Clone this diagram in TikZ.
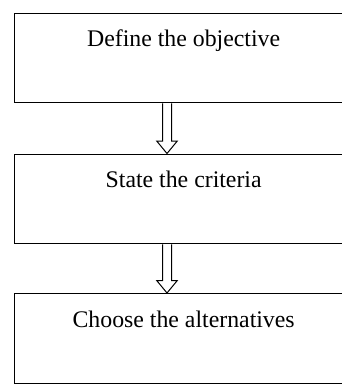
\documentclass[tikz,border=0pt]{standalone}
\usepackage{fontspec}
\setmainfont{Liberation Serif}
\usetikzlibrary{calc}

\begin{document}
\begin{tikzpicture}[
      x=1pt, y=1pt,
      line join=miter,
      stepbox/.style={draw=black, line width=1.3pt, anchor=north west,
        minimum width=338pt, minimum height=89.5pt, inner sep=0pt,
        text height=15pt, text depth=37.5pt, font=\fontsize{23.8}{28}\selectfont},
      hollow/.style={draw=black, line width=1pt, fill=white},
    ]
    %% Page frame, the boxes run off the right edge.
    \useasboundingbox (0,0) rectangle (342,-386);
    \clip (0,0) rectangle (342,-386);
    %% The three steps.
    \node[stepbox] (objective) at (14,-12.5) {Define the objective};
    \node[stepbox] (criteria)  at (14,-153.5) {State the criteria};
    \node[stepbox] (choice)    at (14,-293) {Choose the alternatives};
    %% Axis of the hollow arrows.
    \coordinate (axis) at (167,0);
    %% Hollow arrow from one box to the next.
    \newcommand{\hollowarrow}[2]{%
      \draw[hollow]
           ($(#1.south -| axis)+(-4.5,0)$)
        -- ($(#2.north -| axis)+(-4.5,12.5)$)
        -- ($(#2.north -| axis)+(-10.3,12.5)$)
        -- (#2.north -| axis)
        -- ($(#2.north -| axis)+(10.3,12.5)$)
        -- ($(#2.north -| axis)+(4.5,12.5)$)
        -- ($(#1.south -| axis)+(4.5,0)$);}
    \hollowarrow{objective}{criteria}
    \hollowarrow{criteria}{choice}
  \end{tikzpicture}
\end{document}
